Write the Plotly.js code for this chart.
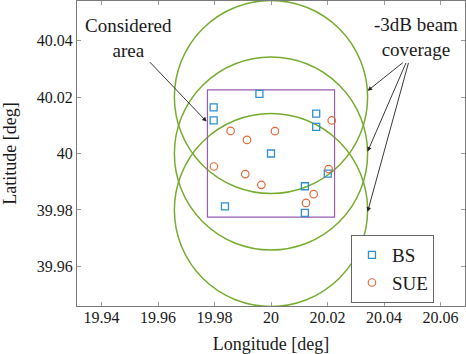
<!DOCTYPE html>
<html>
<head>
<meta charset="utf-8">
<script src="https://cdn.plot.ly/plotly-3.0.1.min.js"></script>
<style>
  html, body { margin: 0; padding: 0; background: #fff; }
  #chart { width: 466px; height: 354px; }
</style>
</head>
<body>
<div id="chart"></div>
<script>
// base station positions
const bsLon = [19.9797, 19.9797, 19.9959, 20.0160, 20.0160, 20.0000, 20.0201, 20.0120, 19.9837, 20.0120];
const bsLat = [40.0163, 40.0117, 40.0211, 40.0141, 40.0094, 40.0000, 39.9929, 39.9884, 39.9813, 39.9790];

// satellite user equipment positions
const sueLon = [19.9857, 19.9915, 20.0014, 20.0215, 19.9798, 19.9909, 19.9966, 20.0204, 20.0151, 20.0124];
const sueLat = [40.0080, 40.0048, 40.0079, 40.0117, 39.9954, 39.9927, 39.9889, 39.9945, 39.9856, 39.9825];

// -3dB beam footprints
const beamLon = [20, 20, 20];
const beamLat = [40.02, 40, 39.98];
const beamRadius = 0.0342;

// considered area corners
const areaLon = [19.9775, 20.0225];
const areaLat = [39.9775, 40.0225];

const xTicks = [19.94, 19.96, 19.98, 20, 20.02, 20.04, 20.06];
const xTickText = ["19.94", "19.96", "19.98", "20", "20.02", "20.04", "20.06"];
const yTicks = [39.96, 39.98, 40, 40.02, 40.04];
const yTickText = ["39.96", "39.98", "40", "40.02", "40.04"];

const serif = "'Liberation Serif', 'Times New Roman', 'DejaVu Serif', serif";
const ink = "#1a1a1a";

const traces = [
    {
        x: bsLon, y: bsLat,
        type: "scatter", mode: "markers", name: "BS",
        marker: { symbol: "square-open", size: 7, color: "#2f8fd1", line: { width: 1.3 } }
    },
    {
        x: sueLon, y: sueLat,
        type: "scatter", mode: "markers", name: "SUE",
        marker: { symbol: "circle-open", size: 7.5, color: "#e2693c", line: { width: 1.2 } }
    }
];

const shapes = beamLat.map((lat, i) => ({
    type: "circle", xref: "x", yref: "y", layer: "below",
    x0: beamLon[i] - beamRadius, x1: beamLon[i] + beamRadius,
    y0: lat - beamRadius, y1: lat + beamRadius,
    line: { color: "#77ac30", width: 1.5 }
}));
shapes.push({
    type: "rect", xref: "x", yref: "y", layer: "below",
    x0: areaLon[0], x1: areaLon[1], y0: areaLat[0], y1: areaLat[1],
    line: { color: "#9a5cb0", width: 1.2 }
});

const arrowStyle = { showarrow: true, arrowhead: 2, arrowsize: 1, arrowwidth: 0.9, arrowcolor: "#222", axref: "x", ayref: "y", text: "" };

const annotations = [
    { x: 19.9496, y: 40.0409, xref: "x", yref: "y", text: "Considered<br>area", showarrow: false,
      font: { family: serif, size: 19, color: ink } },
    { x: 20.0513, y: 40.0412, xref: "x", yref: "y", text: "-3dB beam<br>coverage", showarrow: false,
      font: { family: serif, size: 19, color: ink } },
    Object.assign({ x: 19.9772, y: 40.0113, ax: 19.9566, ay: 40.0329 }, arrowStyle),
    Object.assign({ x: beamLon[0] + beamRadius, y: 40.0222, ax: 20.0472, ay: 40.0326 }, arrowStyle),
    Object.assign({ x: beamLon[1] + beamRadius, y: 40.0007, ax: 20.0480, ay: 40.0326 }, arrowStyle),
    Object.assign({ x: beamLon[2] + beamRadius, y: 39.9794, ax: 20.0488, ay: 40.0326 }, arrowStyle)
];

const axisCommon = {
    showgrid: false, zeroline: false,
    showline: true, linecolor: "#7a7a7a", linewidth: 1, mirror: "ticks",
    ticks: "inside", ticklen: 4, tickcolor: "#9a9a9a", tickwidth: 1,
    tickfont: { family: serif, size: 16, color: ink }
};

const layout = {
    width: 466, height: 354,
    margin: { t: 1, r: 1, b: 48, l: 77 },
    font: { family: serif, color: ink },
    paper_bgcolor: "#fff", plot_bgcolor: "#fff",
    showlegend: true,
    legend: {
        x: 0.92, y: 0.233, xanchor: "right", yanchor: "top",
        bgcolor: "#fff", bordercolor: "#666", borderwidth: 1,
        font: { family: serif, size: 19, color: ink },
        tracegroupgap: 0, itemwidth: 30
    },
    xaxis: Object.assign({}, axisCommon, {
        range: [19.93133, 20.06867],
        tickmode: "array", tickvals: xTicks, ticktext: xTickText,
        ticklabelstandoff: -3,
        title: { text: "Longitude [deg]", font: { family: serif, size: 18, color: ink }, standoff: 14 }
    }),
    yaxis: Object.assign({}, axisCommon, {
        range: [39.946, 40.054],
        tickmode: "array", tickvals: yTicks, ticktext: yTickText,
        title: { text: "Latitude [deg]", font: { family: serif, size: 18, color: ink }, standoff: 15 }
    }),
    shapes: shapes,
    annotations: annotations
};

Plotly.newPlot("chart", traces, layout, { displayModeBar: false, staticPlot: true });
</script>
</body>
</html>
